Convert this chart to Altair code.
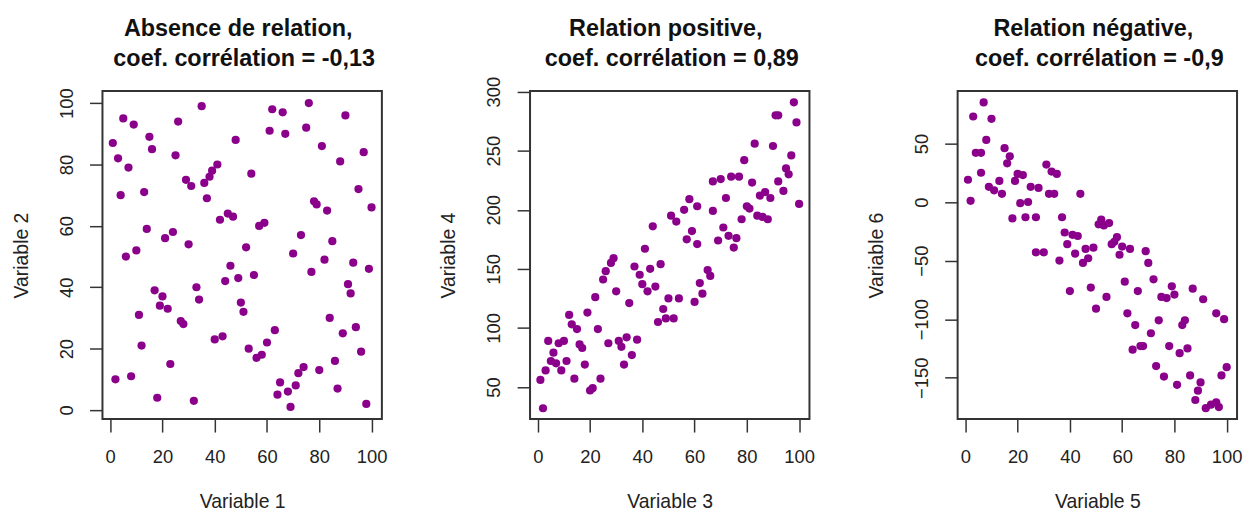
import altair as alt
import pandas as pd

# ---------------- data ----------------
x1 = [35, 5, 9, 26, 15, 1, 16, 48, 3, 25, 7, 29, 31, 36, 38, 39, 41, 4, 13, 37,
      42, 45, 47, 14, 21, 24, 30, 10, 6, 46, 44, 49, 17, 20, 19, 22, 33, 34, 11, 27,
      28, 50, 51, 12, 40, 43, 23, 2, 8, 18, 32,
      76, 62, 66, 90, 61, 67, 75, 81, 97, 88, 54, 95, 78, 79, 83, 100, 57, 59, 73,
      85, 52, 70, 82, 93, 99, 77, 55, 91, 92, 84, 94, 89, 63, 60, 53, 56, 58, 96,
      86, 80, 74, 72, 65, 71, 64, 68, 69, 87, 98]
y1 = [99, 95, 93, 94, 89, 87, 85, 88, 82, 83, 79, 75, 73, 74, 76, 78, 80, 70, 71, 69,
      62, 64, 63, 59, 56, 58, 54, 52, 50, 47, 42, 43, 39, 37, 34, 33, 40, 36, 31, 29,
      28, 35, 32, 21, 23, 24, 15, 10, 11, 4, 3,
      100, 98, 97, 96, 91, 90, 92, 86, 84, 81, 77, 72, 68, 67, 65, 66, 60, 61, 57,
      55, 53, 51, 49, 48, 46, 45, 44, 41, 38, 30, 27, 25, 26, 22, 20, 17, 18, 19,
      16, 13, 14, 12, 9, 8, 5, 6, 1, 7, 2]

x2 = [2, 1, 3, 4, 6, 5, 7, 9, 8, 10, 11, 14, 12, 13, 15, 16, 17, 18, 20, 21,
      24, 19, 23, 22, 25, 26, 28, 29, 27, 30, 31, 32, 34, 33, 36, 38, 35, 37, 39, 40,
      42, 41, 43, 45, 44, 47, 46, 49, 48, 50, 51,
      54, 52, 60, 63, 62, 65, 66, 53, 56, 58, 61, 57, 59, 61, 67, 67, 70, 74, 77,
      72, 69, 71, 73, 76, 75, 78, 79, 82, 80, 81, 83, 84, 86, 88, 85, 87, 89, 90,
      91, 92, 92, 94, 95, 96, 97, 98, 99, 100]
y2 = [32, 56, 64, 89, 79, 72, 70, 64, 87, 89, 72, 57, 111, 103, 99, 86, 83, 69, 47, 49,
      57, 113, 99, 126, 141, 148, 155, 159, 87, 131, 89, 84, 92, 69, 77, 90, 121, 152, 145, 137,
      131, 167, 150, 135, 186, 154, 105, 108, 116, 125, 195,
      125, 108, 122, 129, 138, 149, 144, 190, 200, 209, 203, 175, 182, 171, 199, 224, 226, 228, 228,
      210, 174, 185, 178, 176, 168, 192, 242, 223, 203, 201, 256, 195, 194, 192, 212, 215, 210, 254,
      280, 280, 224, 216, 235, 230, 246, 291, 274, 205]

x3 = [7, 3, 10, 8, 4, 6, 15, 17, 16, 6, 1, 2, 9, 11, 14, 13, 20, 22, 19, 21,
      24, 18, 23, 27, 25, 28, 31, 33, 35, 32, 34, 44, 27, 30, 37, 38, 41, 43, 39, 42,
      36, 46, 49, 45, 47, 40, 48, 50, 51,
      52, 53, 55, 54, 57, 58, 56, 60, 59, 63, 61, 66, 62, 65, 64, 67, 68, 69, 70, 72,
      74, 71, 73, 76, 75, 77, 79, 80, 78, 81, 82, 85, 83, 84, 87, 91, 86, 90, 89, 88,
      92, 94, 96, 97, 96, 99, 98, 100]
y3 = [85, 73, 71, 53, 42, 42, 46, 39, 33, 25, 19, 1, 13, 10, 7, 18, 24, 23, 18, -1,
      0, -14, -13, -13, 13, 12, 32, 26, 24, 7, 7, 7, -43, -43, -13, -26, -28, -29, -36, -44,
      -50, -40, -39, -52, -48, -76, -73, -91, -19,
      -15, -20, -18, -81, -34, -30, -36, -38, -45, -40, -68, -76, -95, -105, -126, -123, -123, -42, -52, -66,
      -101, -112, -140, -149, -81, -82, -72, -79, -123, -156, -129, -125, -105, -101, -74, -83, -148, -154, -161, -169,
      -176, -173, -171, -175, -95, -100, -148, -141]

x_ticks = [0, 20, 40, 60, 80, 100]
y1_ticks = [0, 20, 40, 60, 80, 100]
y2_ticks = [50, 100, 150, 200, 250, 300]
y3_ticks = [-150, -100, -50, 0, 50]

titles = [
    ("Absence de relation,", "coef. corrélation = -0,13"),
    ("Relation positive,", "coef. corrélation = 0,89"),
    ("Relation négative,", "coef. corrélation = -0,9"),
]
x_titles = ["Variable 1", "Variable 3", "Variable 5"]
y_titles = ["Variable 2", "Variable 4", "Variable 6"]

# ---------------- style ----------------
FONT = "Liberation Sans"
PURPLE = "#8B008B"
INK = "#222222"
LINE = "#333333"
W, H = 281, 330


def panel(x, y, ydom, yticks, xt, yt, line1, line2):
    df = pd.DataFrame({"x": x, "y": y})
    xaxis = alt.Axis(values=x_ticks, domain=False, grid=False, tickSize=13, tickWidth=1.5,
                     tickColor=LINE, labelFont=FONT, labelFontSize=18.5, labelColor=INK,
                     labelBaseline="alphabetic", labelPadding=31, labelFlush=False,
                     labelOverlap=False, title=xt, titleFont=FONT, titleFontSize=19.5,
                     titleFontWeight="normal", titleColor=INK, titleBaseline="alphabetic",
                     titleY=88.5)
    yaxis = alt.Axis(values=yticks, domain=False, grid=False, tickSize=13, tickWidth=1.5,
                     tickColor=LINE, labelFont=FONT, labelFontSize=18.5, labelColor=INK,
                     labelAngle=270, labelAlign="center", labelBaseline="alphabetic",
                     labelPadding=17.5, labelFlush=False, labelOverlap=False,
                     title=yt, titleFont=FONT, titleFontSize=19.5, titleFontWeight="normal",
                     titleColor=INK, titleAngle=270, titleAlign="center",
                     titleBaseline="alphabetic", titleX=-75.5, titleY=H / 2)
    pts = alt.Chart(df).mark_circle(size=68, color=PURPLE, opacity=1).encode(
        x=alt.X("x:Q", scale=alt.Scale(domain=[-2.96, 103.96], nice=False, zero=False), axis=xaxis),
        y=alt.Y("y:Q", scale=alt.Scale(domain=ydom, nice=False, zero=False), axis=yaxis),
    )
    t1 = alt.Chart(pd.DataFrame({"t": [line1]})).mark_text(
        font=FONT, fontSize=23.5, fontWeight="bold", color="#111111",
        align="center", baseline="alphabetic").encode(
        text="t:N", x=alt.value(W / 2 - 4), y=alt.value(-55))
    t2 = alt.Chart(pd.DataFrame({"t": [line2]})).mark_text(
        font=FONT, fontSize=23.5, fontWeight="bold", color="#111111",
        align="center", baseline="alphabetic").encode(
        text="t:N", x=alt.value(W / 2 + 2), y=alt.value(-25))
    return alt.layer(pts, t1, t2).properties(width=W, height=H)


p1 = panel(x1, y1, [-2.96, 103.96], y1_ticks, x_titles[0], y_titles[0], *titles[0])
p2 = panel(x2, y2, [22.8, 300.6], y2_ticks, x_titles[1], y_titles[1], *titles[1])
p3 = panel(x3, y3, [-185.3, 94.8], y3_ticks, x_titles[2], y_titles[2], *titles[2])

chart = alt.hconcat(p1, p2, p3, spacing=149, bounds="flush").properties(
    padding={"left": 2, "top": 7, "right": 0, "bottom": 0}
).configure_view(stroke=LINE, strokeWidth=2)

chart.save("out.html", embed_options={"renderer": "svg", "actions": False})
